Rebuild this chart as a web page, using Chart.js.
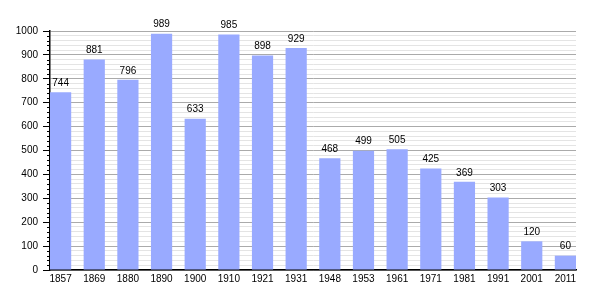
<!DOCTYPE html>
<html>
<head>
<meta charset="utf-8">
<script src="https://cdn.jsdelivr.net/npm/chart.js@4"></script>
<style>
  html, body { margin: 0; padding: 0; background: #fff; }
  #wrap { width: 605px; height: 300px; }
</style>
</head>
<body>
<div id="wrap"><canvas id="popChart"></canvas></div>
<script>
// Population by census year
const years = ["1857", "1869", "1880", "1890", "1900", "1910", "1921", "1931",
               "1948", "1953", "1961", "1971", "1981", "1991", "2001", "2011"];
const population = [744, 881, 796, 989, 633, 985, 898, 929,
                    468, 499, 505, 425, 369, 303, 120, 60];
const yTicksMajor = [0, 100, 200, 300, 400, 500, 600, 700, 800, 900, 1000];

const FONT = { family: "'Liberation Sans', Arial, sans-serif", size: 10 };

// value labels on top of each bar + the short minor ticks on the y axis
const extras = {
    id: "extras",
    afterDatasetsDraw(chart) {
        const ctx = chart.ctx;
        const meta = chart.getDatasetMeta(0);
        ctx.save();
        ctx.font = `${FONT.size}px ${FONT.family}`;
        ctx.fillStyle = "#000";
        ctx.textAlign = "center";
        ctx.textBaseline = "middle";
        meta.data.forEach((bar, i) => {
            ctx.fillText(population[i], bar.x, bar.y - 9);
        });
        // minor ticks
        const y = chart.scales.y;
        ctx.strokeStyle = "#000";
        ctx.lineWidth = 1;
        y.ticks.forEach(t => {
            if (t.value % 100 === 0) return;
            const py = Math.round(y.getPixelForValue(t.value)) + 0.5;
            ctx.beginPath();
            ctx.moveTo(y.right - 3, py);
            ctx.lineTo(y.right, py);
            ctx.stroke();
        });
        ctx.restore();
    }
};

new Chart(document.getElementById("popChart"), {
    type: "bar",
    data: {
        datasets: [{
            data: population.map((v, i) => ({ x: i, y: v })),
            backgroundColor: "#99aaff",
            borderWidth: 0,
            categoryPercentage: 1,
            barPercentage: 0.63
        }]
    },
    options: {
        responsive: true,
        maintainAspectRatio: false,
        animation: false,
        layout: { padding: { top: 31, right: 29, left: 0, bottom: 0 } },
        plugins: {
            legend: { display: false },
            tooltip: { enabled: false }
        },
        scales: {
            x: {
                type: "linear",
                offset: false,
                min: -0.315,
                max: years.length - 1 + 0.315,
                afterBuildTicks: s => { s.ticks = years.map((_, i) => ({ value: i })); },
                afterFit: s => { s.height = 30; },
                grid: { display: false, drawTicks: false },
                border: { color: "#000", width: 1.5 },
                ticks: {
                    autoSkip: false,
                    maxRotation: 0,
                    padding: 3,
                    color: "#000",
                    font: FONT,
                    callback: v => years[v] ?? ""
                }
            },
            y: {
                min: 0,
                max: 1000,
                afterFit: s => { s.width = 50; },
                afterBuildTicks: s => {
                    const t = [];
                    for (let v = 0; v <= 1000; v += 20) t.push({ value: v });
                    s.ticks = t;
                },
                grid: {
                    color: c => (c.tick && c.tick.value % 100 === 0) ? "#aaaaaa" : "#e4e4e4",
                    tickColor: c => (c.tick && yTicksMajor.includes(c.tick.value)) ? "#000" : "rgba(0,0,0,0)",
                    tickLength: 7
                },
                border: { color: "#000", width: 1.5 },
                ticks: {
                    autoSkip: false,
                    padding: 5,
                    color: "#000",
                    font: FONT,
                    callback: v => yTicksMajor.includes(v) ? v : ""
                }
            }
        }
    },
    plugins: [extras]
});
</script>
</body>
</html>
